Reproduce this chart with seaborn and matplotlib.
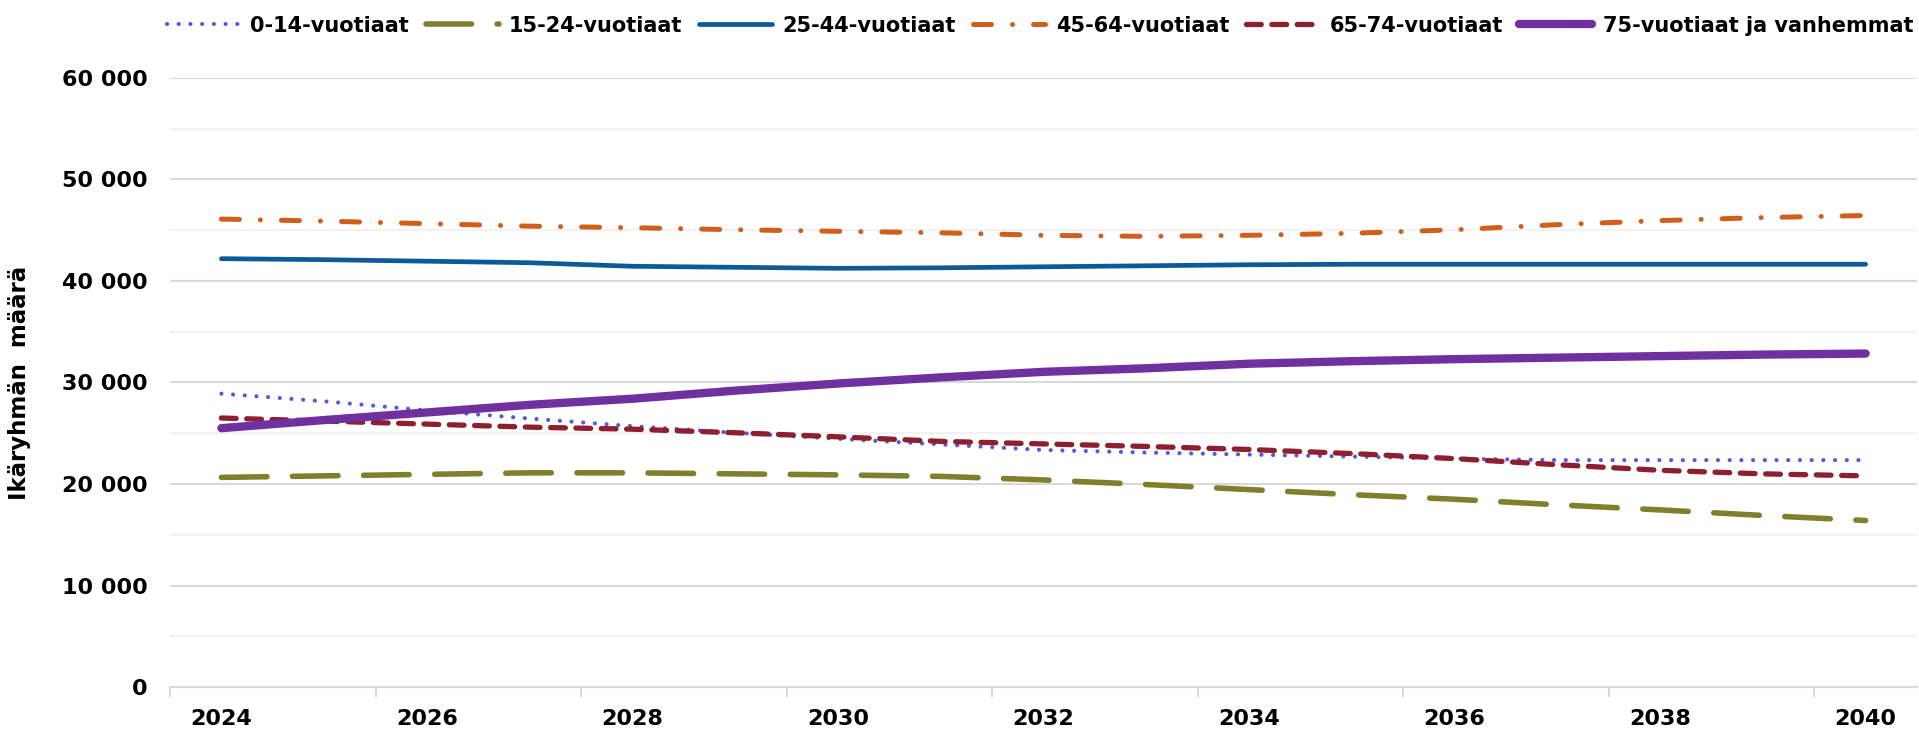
import matplotlib
matplotlib.use("Agg")
from matplotlib import pyplot as plt
from matplotlib.ticker import MultipleLocator, FixedLocator, FuncFormatter
import seaborn as sns
import pandas as pd
import numpy as np

vuodet = list(range(2024, 2041))

ika_0_14 = [28900, 28150, 27250, 26450, 25700, 25050, 24450, 23900, 23350,
            23100, 22900, 22700, 22500, 22350, 22350, 22350, 22350]
ika_15_24 = [20650, 20800, 20950, 21100, 21100, 21000, 20900, 20750, 20400,
             19950, 19450, 18950, 18500, 17950, 17450, 16900, 16400]
ika_25_44 = [42200, 42100, 41950, 41800, 41450, 41350, 41250, 41300, 41400,
             41500, 41600, 41650, 41650, 41650, 41650, 41650, 41650]
ika_45_64 = [46100, 45900, 45650, 45400, 45250, 45050, 44900, 44750, 44500,
             44400, 44500, 44700, 45050, 45550, 45950, 46250, 46450]
ika_65_74 = [26500, 26200, 25900, 25600, 25400, 25050, 24650, 24200, 23950,
             23700, 23400, 23000, 22500, 21900, 21350, 21000, 20800]
ika_75 = [25500, 26300, 27050, 27800, 28400, 29200, 29900, 30500, 31050,
          31400, 31850, 32100, 32300, 32450, 32600, 32750, 32850]

nimet = ["0-14-vuotiaat", "15-24-vuotiaat", "25-44-vuotiaat",
         "45-64-vuotiaat", "65-74-vuotiaat", "75-vuotiaat ja vanhemmat"]
sarjat = [ika_0_14, ika_15_24, ika_25_44, ika_45_64, ika_65_74, ika_75]

# tyylit: vari, viivan paksuus, viivatyyli
tyylit = [
    ("#5a55dc", 3.0, (0, (0.01, 2.8))),
    ("#7f7f2c", 4.0, (0, (8.2, 4.6))),
    ("#0b5a9a", 3.4, "-"),
    ("#cf5f1b", 3.6, (0, (3.6, 4.2, 0.01, 4.2))),
    ("#8d1f2e", 3.8, (0, (2.8, 2.0))),
    ("#7030a0", 6.0, "-"),
]

df = pd.DataFrame({"vuosi": vuodet})
for nimi, arvot in zip(nimet, sarjat):
    df[nimi] = arvot

sns.set_theme(style="white")
plt.rcParams["font.family"] = ["DejaVu Sans"]
plt.rcParams["font.weight"] = "bold"
plt.rcParams["text.color"] = "black"
plt.rcParams["xtick.color"] = "black"
plt.rcParams["ytick.color"] = "black"
plt.rcParams["axes.labelcolor"] = "black"

fig = plt.figure(figsize=(19.19, 7.30), dpi=100)
ax = fig.add_axes([170 / 1919, 1 - 687 / 730, 1747 / 1919, (687 - 78) / 730])

for nimi, (vari, lw, ls) in zip(nimet, tyylit):
    sns.lineplot(data=df, x="vuosi", y=nimi, ax=ax, color=vari, linewidth=lw,
                 linestyle=ls, label=nimi, dash_capstyle="round",
                 solid_capstyle="round")

ax.set_xlim(2023.5, 2040.5)
ax.set_ylim(0, 60000)
ax.yaxis.set_major_locator(MultipleLocator(10000))
ax.yaxis.set_minor_locator(MultipleLocator(5000))
ax.yaxis.set_major_formatter(FuncFormatter(lambda v, p: f"{int(v):,}".replace(",", " ")))
ax.xaxis.set_major_locator(FixedLocator(vuodet[::2]))
ax.xaxis.set_minor_locator(FixedLocator(np.arange(2023.5, 2041, 2)))

ax.yaxis.grid(True, which="major", color="#d9d9d9", linewidth=1.5)
ax.yaxis.grid(True, which="minor", color="#f2f2f2", linewidth=1.5)
ax.set_axisbelow(True)
for s in ["top", "right", "left"]:
    ax.spines[s].set_visible(False)
ax.spines["bottom"].set_color("#d9d9d9")
ax.spines["bottom"].set_linewidth(1.5)

ax.tick_params(axis="y", which="both", length=0, pad=16, labelsize=16)
ax.tick_params(axis="x", which="major", length=0, pad=16, labelsize=16)
ax.tick_params(axis="x", which="minor", length=7, width=1.5, color="#d9d9d9",
               direction="out", bottom=True)
for lab in ax.get_xticklabels() + ax.get_yticklabels():
    lab.set_fontweight("bold")

ax.set_xlabel("")
ax.set_ylabel("Ikäryhmän  määrä", fontsize=16.5, fontweight="bold")
ax.yaxis.set_label_coords(-0.0796, 0.5)

handles, labels = ax.get_legend_handles_labels()
ax.get_legend().remove()
fig.legend(handles, labels, ncol=6, loc="center", bbox_to_anchor=(0.542, 0.965),
           frameon=False, handlelength=3.5, handletextpad=0.5,
           columnspacing=0.8, prop={"weight": "bold", "size": 15})

fig.savefig("out.png", dpi=100)
